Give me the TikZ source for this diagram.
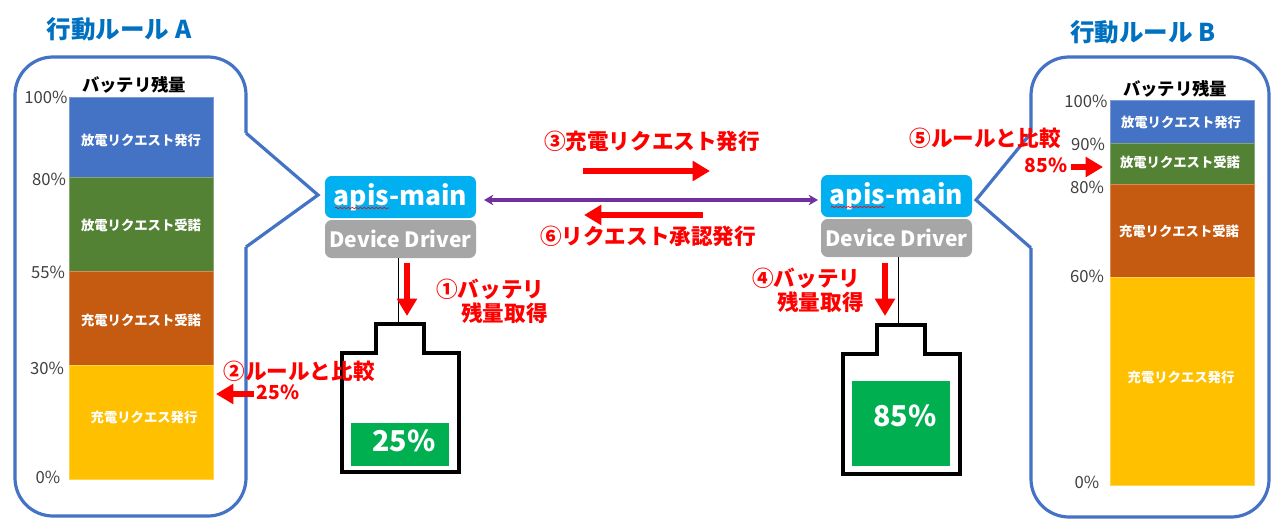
\documentclass[tikz,border=0pt]{standalone}
\usepackage{fontspec}
\setmainfont{Noto Sans CJK JP}
\usetikzlibrary{arrows.meta,decorations.pathmorphing}
\definecolor{ruleblue}{HTML}{4472C4}
\definecolor{rulegreen}{HTML}{548235}
\definecolor{ruleorange}{HTML}{C55A11}
\definecolor{ruleyellow}{HTML}{FFC000}
\definecolor{titleblue}{HTML}{0070C0}
\definecolor{apisblue}{HTML}{00B0F0}
\definecolor{drivergray}{HTML}{A6A6A6}
\definecolor{battgreen}{HTML}{00B050}
\definecolor{linkpurple}{HTML}{7030A0}
\definecolor{pctgray}{HTML}{404040}
\def\px{0.75pt}
\begin{document}
\begin{tikzpicture}[
    x=0.75pt, y=-0.75pt,
    callout/.style={draw=ruleblue, line width=2.4pt, line join=miter},
    barseg/.style={inner sep=0pt, minimum width=144*\px, fill=#1, draw=#1!70!white, line width=0.5pt},
    barlabel/.style={text=white, font=\fontsize{10}{12}\selectfont\bfseries, inner sep=0pt},
    pct/.style={text=pctgray, font=\fontsize{12.5}{15}\selectfont, inner sep=0pt},
    ruletitle/.style={text=titleblue, font=\fontsize{18.4}{22}\selectfont\bfseries, inner sep=0pt},
    bartitle/.style={text=black, font=\fontsize{13}{15}\selectfont\bfseries, inner sep=0pt},
    apisbox/.style={fill=apisblue, rounded corners=5pt, text=white, inner sep=0pt,
                    minimum width=151*\px, minimum height=42*\px, font=\fontsize{19.8}{24}\selectfont\bfseries},
    driverbox/.style={fill=drivergray, rounded corners=5pt, text=white, inner sep=0pt,
                    minimum width=151*\px, minimum height=38*\px, font=\fontsize{15.8}{19}\selectfont\bfseries},
    redtext/.style={text=red, font=\fontsize{16.2}{18}\selectfont\bfseries, inner sep=0pt, align=left},
    redval/.style={text=red, font=\fontsize{14.5}{18}\selectfont\bfseries, inner sep=0pt},
    redarrow/.style={draw=red, line width=4pt, -{Triangle[length=13pt, width=14.5pt]}},
    battery/.style={draw=black, line width=2.6pt, line join=miter},
    wire/.style={draw=black, line width=0.6pt},
    charge/.style={fill=battgreen, inner sep=0pt},
    chargeval/.style={text=white, font=\fontsize{21.5}{26}\selectfont\bfseries, inner sep=0pt},
    linkline/.style={draw=linkpurple, line width=2.6pt, {Stealth[length=7pt, width=8pt]}-{Stealth[length=7pt, width=8pt]}}
]
\useasboundingbox (0,0) rectangle (1276,531);

% callouts
\draw[callout, rounded corners=38*\px] (246,133) -- (246,57) -- (15,57) -- (15,516) -- (246,516) -- (246,247);
\draw[callout] (246,133) -- (318,195) -- (246,247);
\draw[callout, rounded corners=38*\px] (1031,133) -- (1031,57) -- (1269,57) -- (1269,517) -- (1031,517) -- (1031,248);
\draw[callout] (1031,133) -- (976,200) -- (1031,248);

\node[ruletitle] (titlea) at (119,29) {行動ルール A};
\node[ruletitle] (titleb) at (1143,32) {行動ルール B};
\node[bartitle] (capa) at (134,85) {バッテリ残量};
\node[bartitle] (capb) at (1175,89) {バッテリ残量};

% rule A bar
\node[barseg=ruleblue, minimum height=80*\px] (a1) at (141.5,137) {};
\node[barseg=rulegreen, minimum height=94*\px] (a2) at (141.5,224) {};
\node[barseg=ruleorange, minimum height=94*\px] (a3) at (141.5,318) {};
\node[barseg=ruleyellow, minimum height=114*\px] (a4) at (141.5,422) {};
\node[barlabel] (la1) at (141,140) {放電リクエスト発行};
\node[barlabel] (la2) at (141,225) {放電リクエスト受諾};
\node[barlabel] (la3) at (141,320) {充電リクエスト受諾};
\node[barlabel] (la4) at (144,417) {充電リクエス発行};
\node[pct] (pa1) at (46,97) {100\%};
\node[pct] (pa2) at (49,179) {80\%};
\node[pct] (pa3) at (48,272) {55\%};
\node[pct] (pa4) at (47,368) {30\%};
\node[pct] (pa5) at (48,477) {0\%};

% rule B bar
\node[barseg=ruleblue, minimum height=43*\px] (b1) at (1182,121.5) {};
\node[barseg=rulegreen, minimum height=41*\px] (b2) at (1182,163.5) {};
\node[barseg=ruleorange, minimum height=93*\px] (b3) at (1182,230.5) {};
\node[barseg=ruleyellow, minimum height=208*\px] (b4) at (1182,381) {};
\node[barlabel] (lb1) at (1181,122) {放電リクエスト発行};
\node[barlabel] (lb2) at (1180,162) {放電リクエスト受諾};
\node[barlabel] (lb3) at (1179,231) {充電リクエスト受諾};
\node[barlabel] (lb4) at (1181,377) {充電リクエス発行};
\node[pct] (pb1) at (1086,101) {100\%};
\node[pct] (pb2) at (1088,144) {90\%};
\node[pct] (pb3) at (1087,187) {80\%};
\node[pct] (pb4) at (1087,276) {60\%};
\node[pct] (pb5) at (1087,482) {0\%};

% apis boxes
\node[apisbox] (apisa) at (400.5,197) {apis-main};
\node[driverbox] (drva) at (400.5,239) {Device Driver};
\node[apisbox] (apisb) at (896.5,196) {apis-main};
\node[driverbox] (drvb) at (896.5,238) {Device Driver};
\draw[red, line width=0.5pt, decorate, decoration={snake, amplitude=0.5pt, segment length=3pt}]
    (335,208) -- (389,208);
\draw[red, line width=0.5pt, decorate, decoration={snake, amplitude=0.5pt, segment length=3pt}]
    (831,207) -- (885,207);
\coordinate (linka) at (484,200);
\coordinate (linkb) at (818,200);
\draw[linkline] (linka) -- (linkb);

% batteries
\node[charge, minimum width=98*\px, minimum height=43*\px] (chga) at (400,444.5) {};
\node[charge, minimum width=98*\px, minimum height=85*\px] (chgb) at (901,423.5) {};
\node[chargeval] (vala) at (404,441) {25\%};
\node[chargeval] (valb) at (905,416) {85\%};
\draw[battery] (342,472) -- (342,353) -- (376,353) -- (376,324) -- (424,324) -- (424,353) -- (459,353) -- (459,472) -- cycle;
\draw[battery] (843,474) -- (843,354) -- (877,354) -- (877,325) -- (925,325) -- (925,354) -- (960,354) -- (960,474) -- cycle;
\coordinate (tipa) at (398,324);
\coordinate (tipb) at (898,323);
\draw[wire] (drva.south -| tipa) -- (tipa);
\draw[wire] (drvb.south -| tipb) -- (tipb);

% red arrows
\coordinate (s1) at (407,263); \coordinate (e1) at (407,316);
\coordinate (s2) at (254,394); \coordinate (e2) at (216,394);
\coordinate (s3) at (583,171); \coordinate (e3) at (710,171);
\coordinate (s4) at (885,263); \coordinate (e4) at (885,316);
\coordinate (s5) at (1071,167); \coordinate (e5) at (1103,167);
\coordinate (s6) at (703,215); \coordinate (e6) at (584,215);
\draw[redarrow] (s1) -- (e1);
\draw[redarrow] (s2) -- (e2);
\draw[redarrow] (s3) -- (e3);
\draw[redarrow] (s4) -- (e4);
\draw[redarrow] (s5) -- (e5);
\draw[redarrow] (s6) -- (e6);

\node[redtext] (step1) at (492,301) {①バッテリ\\\hspace*{1.15em}残量取得};
\node[redtext] (step2) at (299,371) {②ルールと比較};
\node[redval] (val2) at (278,392) {25\%};
\node[redtext] (step3) at (652,141) {③充電リクエスト発行};
\node[redtext] (step4) at (808,290) {④バッテリ\\\hspace*{1.15em}残量取得};
\node[redtext] (step5) at (985,138) {⑤ルールと比較};
\node[redval] (val5) at (1046,165) {85\%};
\node[redtext] (step6) at (648,236) {⑥リクエスト承認発行};
\end{tikzpicture}
\end{document}
